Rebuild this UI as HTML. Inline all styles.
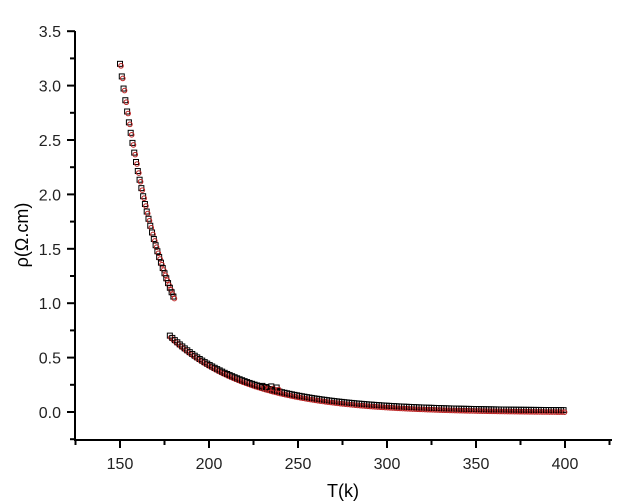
<!DOCTYPE html>
<html><head><style>body{margin:0;background:#fff}svg{display:block}text{font-family:"Liberation Sans",Arial,sans-serif}</style></head>
<body>
<svg id="s" width="619" height="504" xmlns="http://www.w3.org/2000/svg">
<g stroke="#000" stroke-width="2" fill="none">
<line x1="75" y1="31" x2="75" y2="441"/>
<line x1="74" y1="440" x2="612" y2="440"/>
</g>
<g id="ticks" stroke="#000" stroke-width="2"></g>
<g id="labels" font-size="16" fill="#222"></g>
<text x="343" y="497" font-size="18" text-anchor="middle">T(k)</text>
<text transform="translate(28,235) rotate(-90)" font-size="18" text-anchor="middle">ρ(Ω.cm)</text>
<g id="data" fill="none" stroke-width="1"></g>
</svg>
<script>
var X=function(t){return 120+(t-150)*89/50},Y=function(r){return 412-r*108.8};
var tk=document.getElementById('ticks'),lb=document.getElementById('labels'),ns='http://www.w3.org/2000/svg';
function el(p,n,a){var e=document.createElementNS(ns,n);for(var k in a)e.setAttribute(k,a[k]);p.appendChild(e);return e}
for(var v=-0.25;v<=3.5001;v+=0.25){var y=Y(v),maj=Math.abs(v*2-Math.round(v*2))<1e-6;el(tk,'line',{x1:maj?67:70,x2:75,y1:y,y2:y});
if(maj){var t=el(lb,'text',{x:61,y:y+6,'text-anchor':'end'});t.textContent=v.toFixed(1)}}
for(var v=125;v<=425;v+=25){var x=X(v),maj=v%50==0;el(tk,'line',{x1:x,x2:x,y1:440,y2:maj?448:445});
if(maj){var t=el(lb,'text',{x:x,y:469,'text-anchor':'middle'});t.textContent=v}}
var d=document.getElementById('data');
function pt(T,r,dx){el(d,'rect',{x:X(T)-2.5,y:Y(r)-2.5,width:5,height:5,stroke:'#000'});el(d,'circle',{cx:X(T)+1+dx,cy:Y(r)+2,r:2.3,stroke:'#b22'})}
for(var T=150;T<=180;T+=1){pt(T,3.2*Math.exp(-0.0368*(T-150)),0)}
for(var T=178;T<=400;T+=1.4){pt(T,0.012+0.69*Math.exp(-(T-178)/45),0)}
[[230,0.24],[232,0.23],[235,0.235],[238,0.225]].forEach(function(p){pt(p[0],p[1],1)});
</script>
</body></html>
